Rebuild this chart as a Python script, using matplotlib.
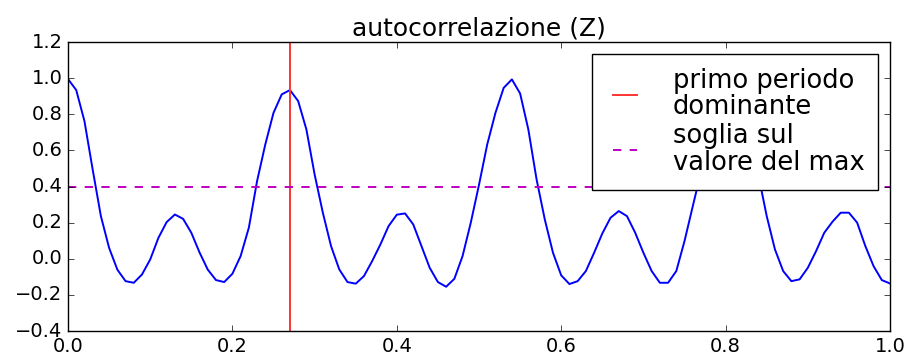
import matplotlib
matplotlib.use("Agg")
import matplotlib.pyplot as plt
import numpy as np

plt.style.use('classic')
plt.rcParams['font.family'] = ['DejaVu Sans']
plt.rcParams['font.size'] = 14

lags = [round(i * 0.01, 2) for i in range(101)]
autocorr = [
    0.995, 0.934, 0.762, 0.494, 0.236, 0.060, -0.060, -0.124, -0.133, -0.087,
    -0.004, 0.116, 0.203, 0.245, 0.221, 0.144, 0.035, -0.060, -0.118, -0.129,
    -0.083, 0.015, 0.172, 0.430, 0.633, 0.808, 0.910, 0.934, 0.873, 0.716,
    0.467, 0.255, 0.070, -0.059, -0.129, -0.138, -0.096, -0.013, 0.079, 0.181,
    0.244, 0.251, 0.190, 0.070, -0.050, -0.129, -0.155, -0.111, 0.015, 0.200,
    0.410, 0.633, 0.808, 0.946, 0.993, 0.915, 0.716, 0.440, 0.218, 0.033,
    -0.092, -0.140, -0.124, -0.068, 0.033, 0.140, 0.227, 0.264, 0.236, 0.144,
    0.033, -0.068, -0.133, -0.133, -0.068, 0.098, 0.290, 0.480, 0.700, 0.860,
    0.950, 0.960, 0.880, 0.700, 0.460, 0.236, 0.052, -0.068, -0.124, -0.114,
    -0.050, 0.042, 0.144, 0.205, 0.255, 0.255, 0.200, 0.070, -0.041, -0.118,
    -0.137,
]
dominant_period = 0.27
threshold = 0.4

fig = plt.figure(figsize=(9.08, 3.56), dpi=100, facecolor='white')
ax = fig.add_axes([0.0749, 0.0702, 0.9053, 0.8118])
ax.plot(lags, autocorr, color='b', linewidth=1.4)
ax.axvline(dominant_period, color='#ff3333', linewidth=1.4, label='primo periodo\ndominante')
ax.axhline(threshold, color='m', linestyle='--', linewidth=1.4, dashes=(6, 6),
           label='soglia sul\nvalore del max')
ax.set_xlim(0, 1.0)
ax.set_ylim(-0.4, 1.2)
ax.set_xticks([0.0, 0.2, 0.4, 0.6, 0.8, 1.0])
ax.set_yticks([-0.4, -0.2, 0.0, 0.2, 0.4, 0.6, 0.8, 1.0, 1.2])
ax.tick_params(labelsize=14)
ax.set_title('autocorrelazione (Z)', fontsize=18)
leg = ax.legend(loc='upper right', fontsize=18.5, handlelength=1.5,
                handletextpad=1.1, borderpad=0.55, labelspacing=0.12,
                borderaxespad=0.45)
for t in leg.get_texts():
    t.set_linespacing(1.02)
fig.savefig('out.png', dpi=100, facecolor='white')
